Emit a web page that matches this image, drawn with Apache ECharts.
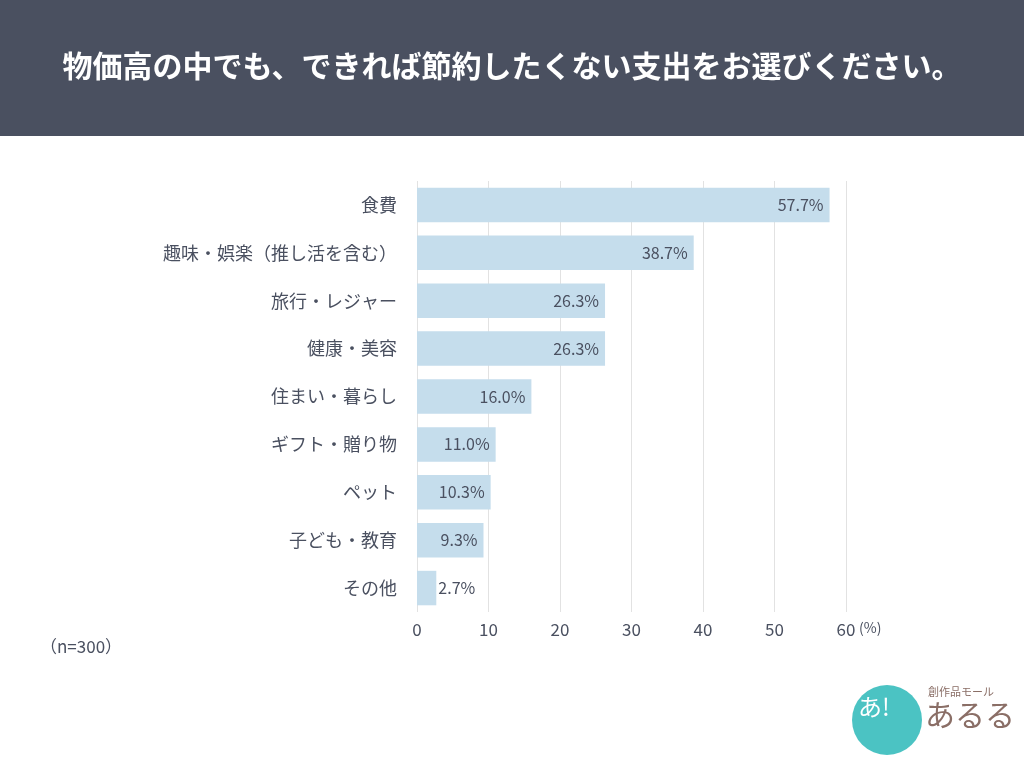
<!DOCTYPE html>
<html>
<head>
<meta charset="utf-8">
<script src="https://cdn.jsdelivr.net/npm/echarts@6/dist/echarts.min.js"></script>
<style>
  html, body { margin: 0; padding: 0; background: #fff; }
  #chart { width: 1024px; height: 768px; }
</style>
</head>
<body>
<div id="chart"></div>
<script>
// 項目 (上から順)
var categories = ['食費', '趣味・娯楽（推し活を含む）', '旅行・レジャー', '健康・美容', '住まい・暮らし', 'ギフト・贈り物', 'ペット', '子ども・教育', 'その他'];
var values = [57.7, 38.7, 26.3, 26.3, 16.0, 11.0, 10.3, 9.3, 2.7];
var xTicks = [0, 10, 20, 30, 40, 50, 60];

var cText = '#4a5060';
var cFont = '"Noto Sans CJK JP", "Noto Sans", sans-serif';

var chart = echarts.init(document.getElementById('chart'));

// 小さい値はバーの外にラベル
var barData = values.map(function (v) {
    return {
        value: v,
        label: { position: v < 5 ? 'right' : 'insideRight', distance: v < 5 ? 2 : 6 }
    };
});

chart.setOption({
    backgroundColor: '#fff',
    animation: false,
    grid: { left: 417, right: 178, top: 181, bottom: 156 },
    xAxis: {
        type: 'value',
        min: xTicks[0],
        max: xTicks[xTicks.length - 1],
        interval: 10,
        axisLine: { show: false },
        axisTick: { show: false },
        axisLabel: { color: cText, fontSize: 17, fontFamily: cFont, margin: 9 },
        splitLine: { lineStyle: { color: '#e2e2e2', width: 1 } }
    },
    yAxis: {
        type: 'category',
        data: categories,
        inverse: true,
        axisLine: { show: false },
        axisTick: { show: false },
        axisLabel: { color: cText, fontSize: 18, fontFamily: cFont, margin: 20 }
    },
    series: [{
        type: 'bar',
        data: barData,
        barCategoryGap: '28%',
        itemStyle: { color: '#c5ddec' },
        label: {
            show: true,
            color: cText,
            fontSize: 16,
            fontFamily: cFont,
            formatter: function (p) { return p.value.toFixed(1) + '%'; }
        }
    }],
    graphic: [
        { type: 'rect', left: 0, top: 0, shape: { width: 1024, height: 136 }, style: { fill: '#4a5060' } },
        {
            type: 'text', left: 'center', top: 51,
            style: { text: '物価高の中でも、できれば節約したくない支出をお選びください。', fill: '#fff', font: 'bold 30px ' + cFont }
        },
        { type: 'text', left: 859, top: 621, style: { text: '(%)', fill: cText, font: '14px ' + cFont } },
        { type: 'text', left: 40, top: 638, style: { text: '（n=300）', fill: cText, font: '17px ' + cFont } },
        // ロゴ
        { type: 'circle', shape: { cx: 887, cy: 720, r: 35 }, style: { fill: '#4bc3c3' } },
        { type: 'text', left: 858, top: 695, style: { text: 'あ!', fill: '#fff', font: '24px ' + cFont } },
        { type: 'text', left: 928, top: 686, style: { text: '創作品モール', fill: '#8a6e66', font: '11px ' + cFont } },
        { type: 'text', left: 925, top: 700, style: { text: 'あるる', fill: '#8a6e66', font: '30px ' + cFont } }
    ]
});
</script>
</body>
</html>
